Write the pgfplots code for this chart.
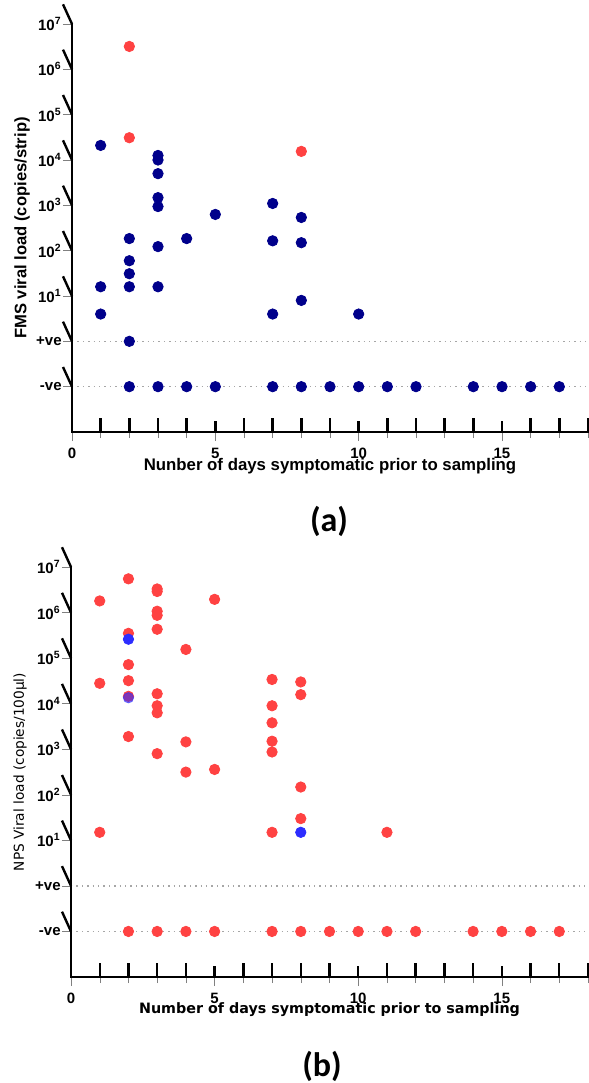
\documentclass[border=0pt]{standalone}
\usepackage{pgfplots}
\pgfplotsset{compat=1.18}
\usepackage{fontspec}
\setmainfont{Liberation Sans}
\newfontfamily\dejavu{DejaVu Sans}
\newfontfamily\carlito{Carlito}

\definecolor{navy}{RGB}{0,0,139}
\definecolor{redpt}{RGB}{255,66,66}
\definecolor{bluept}{RGB}{45,45,255}

% Prism-like axis frame: thick left/bottom lines with outward ticks
\newcommand{\prismframe}{%
  \draw[black, line width=1.4pt, line cap=rect] (axis cs:0,1e7) -- (axis cs:0,1e-2) -- (axis cs:18,1e-2);
  \pgfplotsinvokeforeach{0.1,1,10,100,1000,1e4,1e5,1e6,1e7}{%
    \draw[black, line width=1.2pt] (axis cs:0,##1) -- ++(-4.5pt,0);}
  \pgfplotsinvokeforeach{0,5,10,15}{%
    \draw[black, line width=1.2pt] (axis cs:##1,1e-2) -- ++(0,-4.5pt);}
  \pgfplotsinvokeforeach{1,2,3,4,6,7,8,9,11,12,13,14,16,17,18}{%
    \draw[black, line width=1.2pt] (axis cs:##1,1e-2) -- ++(0,-3pt);}
}

\begin{document}
\begin{tikzpicture}
\path[use as bounding box] (0,0) rectangle (294.5pt,-541.5pt);

% ---------- (a) FMS ----------
\begin{axis}[
  scale only axis,
  at={(36pt,-216pt)}, anchor=south west,
  width=258pt, height=204pt,
  ymode=log,
  xmin=0, xmax=18, ymin=1e-2, ymax=1e7,
  axis x line*=bottom, axis y line*=left,
  axis line style={black, line width=1.4pt},
  xtick={0,5,10,15},
  xticklabels={0,5,10,15},
  minor xtick={1,2,3,4,6,7,8,9,11,12,13,14,16,17,18},
  ytick={0.1,1,10,100,1000,1e4,1e5,1e6,1e7},
  yticklabels={-ve,+ve,10\textsuperscript{1},10\textsuperscript{2},10\textsuperscript{3},10\textsuperscript{4},10\textsuperscript{5},10\textsuperscript{6},10\textsuperscript{7}},
  yminorticks=false,
  xtick align=outside, ytick align=outside,
  major tick length=4.5pt, minor tick length=3pt,
  ticklabel style={font=\bfseries\fontsize{7.5}{8}\selectfont},
  yticklabel style={inner sep=0.5pt},
  xticklabel style={inner sep=1pt, yshift=-2.5pt},
  clip=false,
  xlabel={Nunber of days symptomatic prior to sampling},
  ylabel={FMS viral load (copies/strip)},
  xlabel style={at={(axis description cs:0.5,0)}, anchor=center, yshift=-17pt,
    font=\bfseries\fontsize{8.4}{9}\selectfont},
  ylabel style={at={(axis description cs:0,0.5)}, anchor=center, rotate=0, yshift=25pt,
    font=\bfseries\fontsize{8.3}{9}\selectfont},
]
\addplot[gray!70, dotted, line width=0.7pt, forget plot] coordinates {(0,1) (18,1)};
\addplot[gray!70, dotted, line width=0.7pt, forget plot] coordinates {(0,0.1) (18,0.1)};
% positive FMS
\addplot[only marks, mark=*, mark size=2.6pt, navy] coordinates {
(1,21000) (1,16) (1,4)
(2,185) (2,60) (2,31) (2,16) (2,1)
(3,12600) (3,10000) (3,5000) (3,1480) (3,940) (3,123) (3,16)
(4,185) (5,630)
(7,1100) (7,165) (7,4)
(8,540) (8,150) (8,8)
(10,4)
};
% negative FMS
\addplot[only marks, mark=*, mark size=2.6pt, navy] coordinates {
(2,0.1) (3,0.1) (4,0.1) (5,0.1) (7,0.1) (8,0.1) (9,0.1) (10,0.1)
(11,0.1) (12,0.1) (14,0.1) (15,0.1) (16,0.1) (17,0.1)
};
\addplot[only marks, mark=*, mark size=2.6pt, redpt] coordinates {(2,3.2e6) (2,31000) (8,15500)};
\prismframe
\end{axis}

% ---------- (b) NPS ----------
\begin{axis}[
  scale only axis,
  at={(35.5pt,-488.5pt)}, anchor=south west,
  width=258.5pt, height=205pt,
  ymode=log,
  xmin=0, xmax=18, ymin=1e-2, ymax=1e7,
  axis x line*=bottom, axis y line*=left,
  axis line style={black, line width=1.4pt},
  xtick={0,5,10,15},
  xticklabels={0,5,10,15},
  minor xtick={1,2,3,4,6,7,8,9,11,12,13,14,16,17,18},
  ytick={0.1,1,10,100,1000,1e4,1e5,1e6,1e7},
  yticklabels={-ve,+ve,10\textsuperscript{1},10\textsuperscript{2},10\textsuperscript{3},10\textsuperscript{4},10\textsuperscript{5},10\textsuperscript{6},10\textsuperscript{7}},
  yminorticks=false,
  xtick align=outside, ytick align=outside,
  major tick length=4.5pt, minor tick length=3pt,
  ticklabel style={font=\bfseries\fontsize{7.5}{8}\selectfont},
  yticklabel style={inner sep=0.5pt},
  xticklabel style={inner sep=1pt, yshift=-2.5pt},
  clip=false,
  xlabel={Number of days symptomatic prior to sampling},
  ylabel={NPS Viral load (copies/100µl)},
  xlabel style={at={(axis description cs:0.5,0)}, anchor=center, yshift=-16.5pt,
    font=\dejavu\bfseries\fontsize{7.15}{8}\selectfont},
  ylabel style={at={(axis description cs:0,0.5)}, anchor=center, rotate=0, yshift=25.5pt,
    font=\dejavu\fontsize{6.85}{8}\selectfont},
]
\addplot[gray!70, dotted, line width=0.7pt, forget plot] coordinates {(0,1) (18,1)};
\addplot[gray!70, dotted, line width=0.7pt, forget plot] coordinates {(0,0.1) (18,0.1)};
\addplot[only marks, mark=*, mark size=2.6pt, redpt] coordinates {
(1,1.8e6) (1,28000) (1,15)
(2,5.5e6) (2,3.5e5) (2,72000) (2,32000) (2,14500) (2,1900)
(3,3.3e6) (3,2.9e6) (3,1.07e6) (3,8.7e5) (3,4.3e5) (3,16500) (3,9000) (3,6300) (3,800)
(4,1.55e5) (4,1450) (4,315)
(5,1.95e6) (5,360)
(7,34000) (7,9000) (7,3800) (7,1500) (7,870) (7,15)
(8,30000) (8,15800) (8,148) (8,30)
(11,15)
};
\addplot[only marks, mark=*, mark size=2.6pt, redpt] coordinates {
(2,0.1) (3,0.1) (4,0.1) (5,0.1) (7,0.1) (8,0.1) (9,0.1) (10,0.1)
(11,0.1) (12,0.1) (14,0.1) (15,0.1) (16,0.1) (17,0.1)
};
\addplot[only marks, mark=*, mark size=2.6pt, bluept] coordinates {(2,2.6e5) (8,15)};
\addplot[only marks, mark=*, mark size=2.6pt, bluept, opacity=0.6] coordinates {(2,13500)};
\prismframe
\end{axis}

\node[font=\carlito\bfseries\fontsize{17}{20}\selectfont] at (164.5pt,-260.5pt) {(a)};
\node[font=\carlito\bfseries\fontsize{17}{20}\selectfont] at (161pt,-533pt) {(b)};
\end{tikzpicture}
\end{document}
